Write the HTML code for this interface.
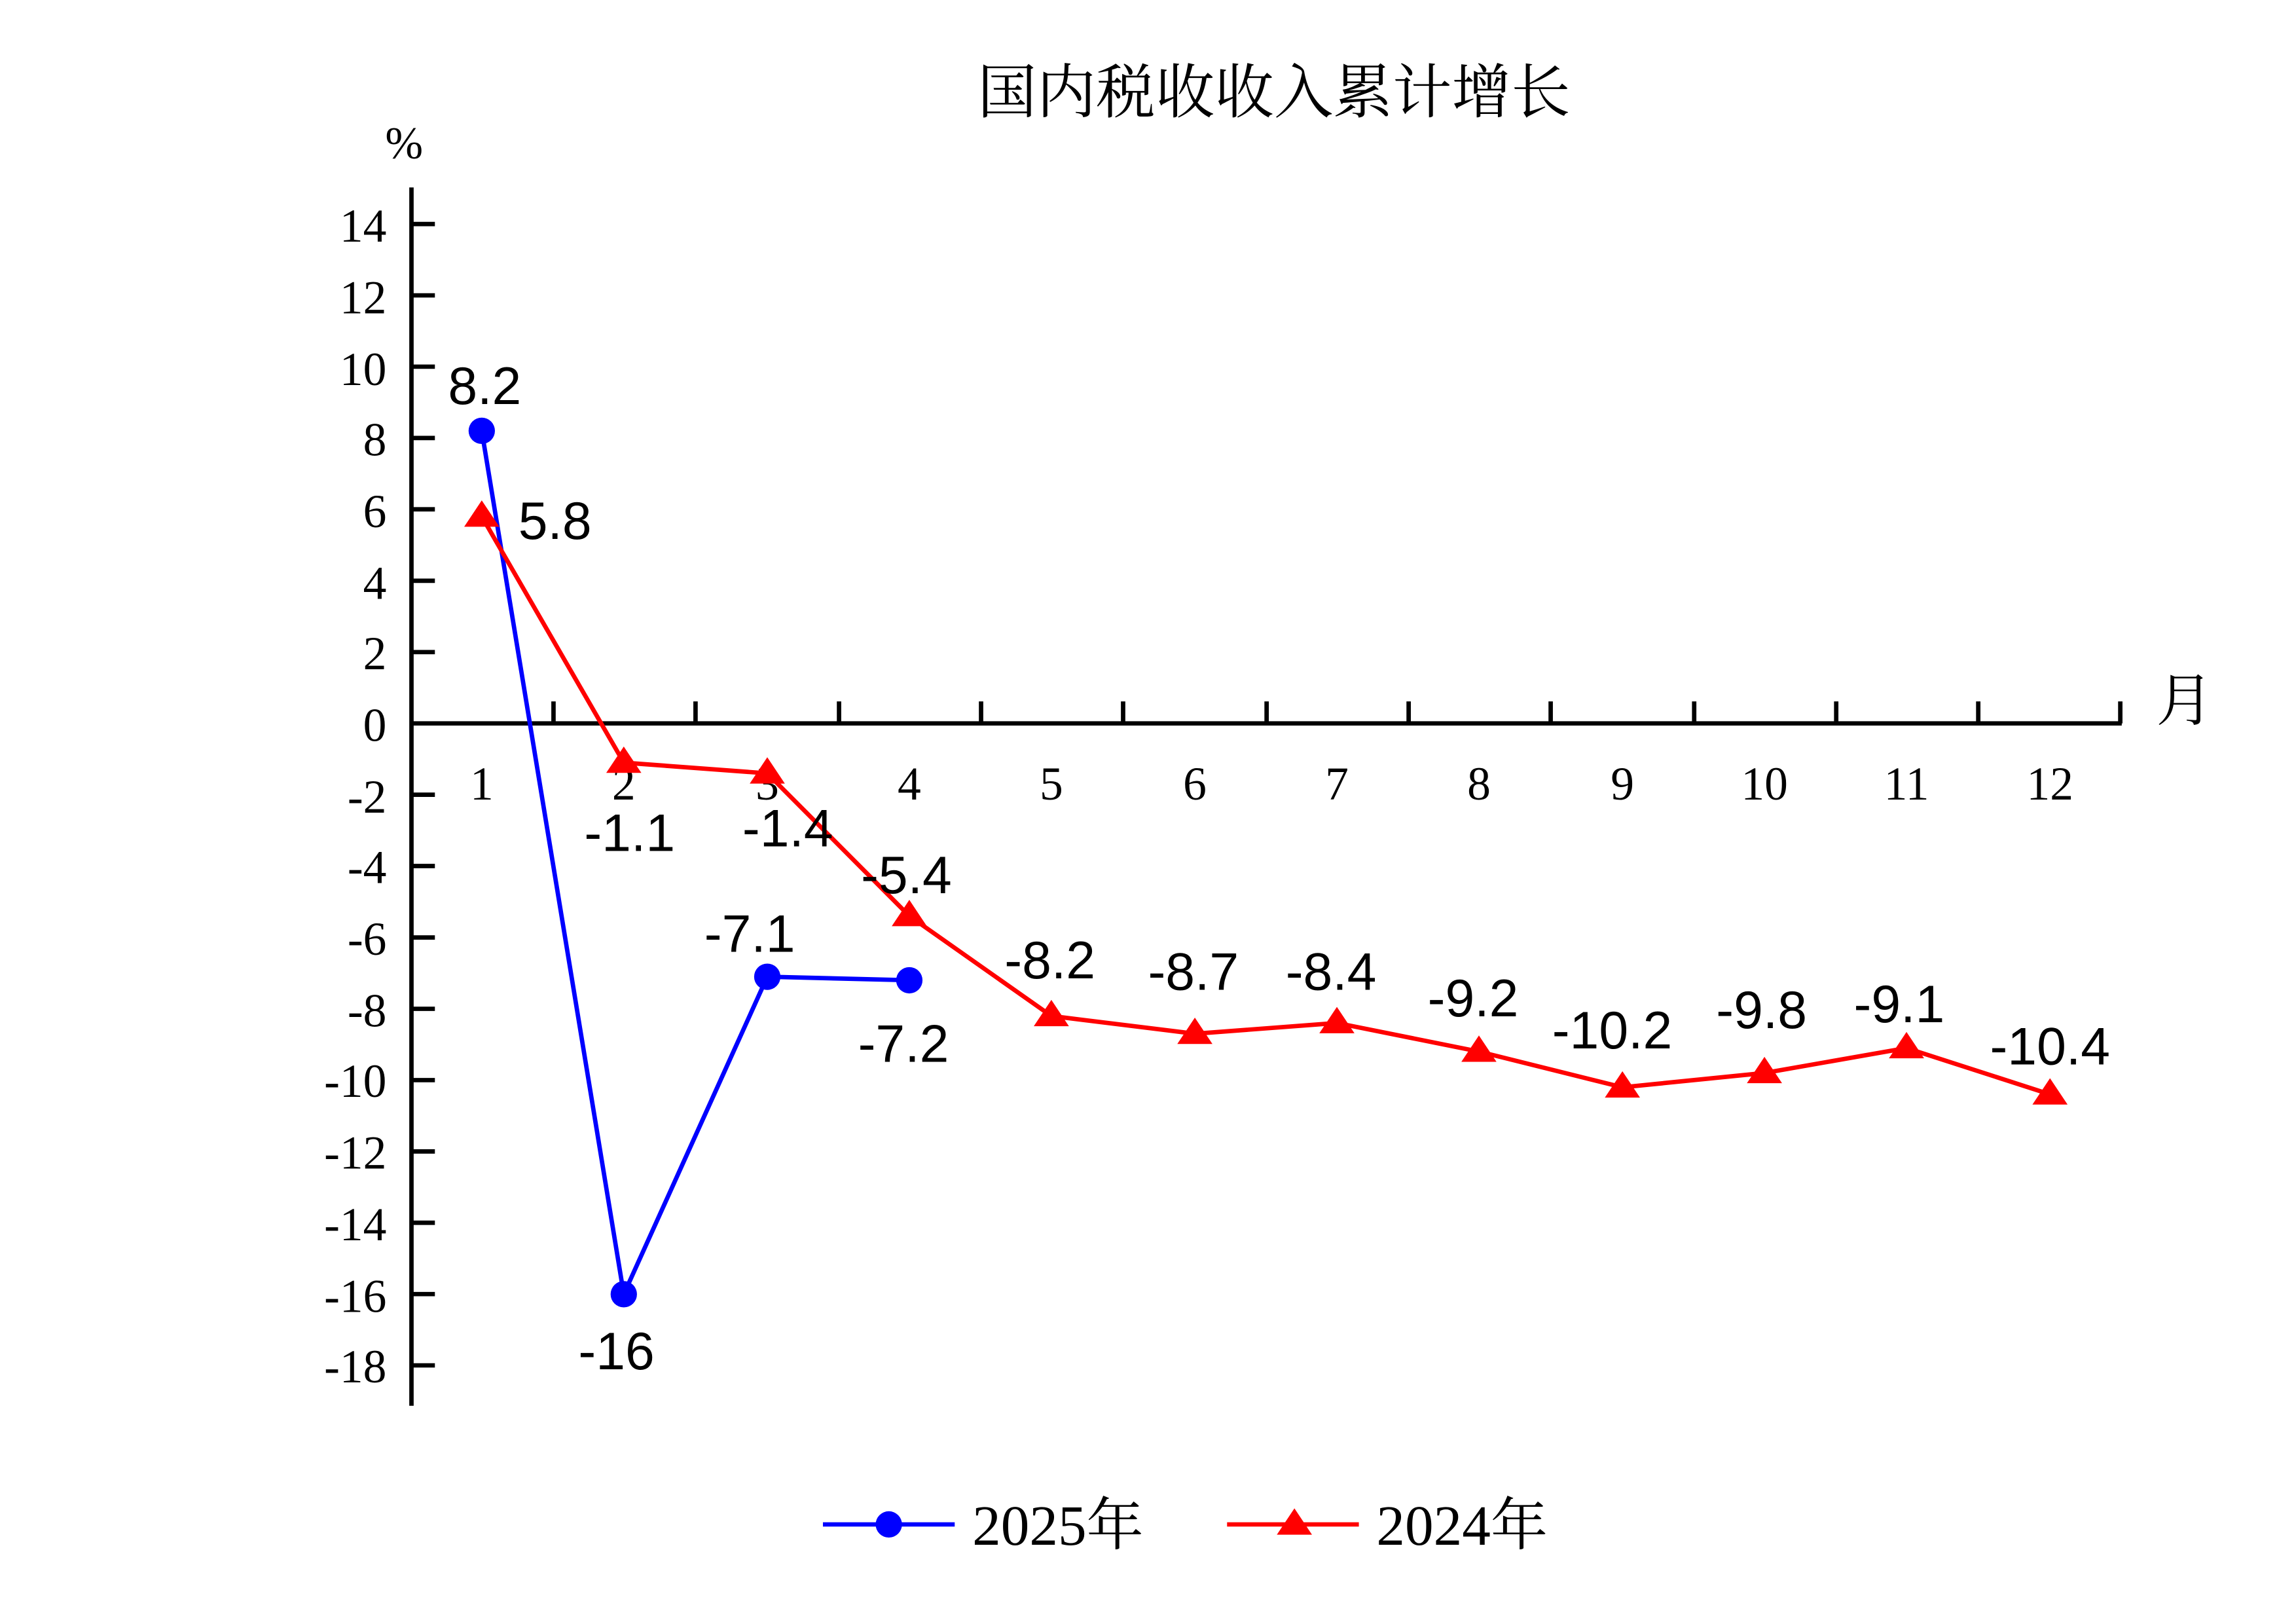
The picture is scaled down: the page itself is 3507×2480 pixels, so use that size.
<!DOCTYPE html>
<html><head><meta charset="utf-8"><style>html,body{margin:0;padding:0;background:#fff}svg{display:block}</style></head>
<body>
<svg width="3507" height="2480" viewBox="0 0 1568 1109" preserveAspectRatio="none" xmlns="http://www.w3.org/2000/svg">
<rect width="1568" height="1109" fill="#fff"/>
<text x="870" y="77" font-family="'Liberation Serif','Noto Serif CJK SC',serif" font-size="40.5" text-anchor="middle">国内税收收入累计增长</text>
<text x="276" y="108" font-family="'Liberation Serif',serif" font-size="31" text-anchor="middle">%</text>
<text x="1492" y="492" font-family="'Liberation Serif','Noto Serif CJK SC',serif" font-size="39" text-anchor="middle">月</text>
<g stroke="#000" stroke-width="3" fill="none">
<line x1="281" y1="128" x2="281" y2="960"/>
<line x1="281" y1="494" x2="1449" y2="494"/>
<path d="M281 153.0h16M281 201.7h16M281 250.4h16M281 299.1h16M281 347.8h16M281 396.6h16M281 445.3h16M281 542.7h16M281 591.4h16M281 640.2h16M281 688.9h16M281 737.6h16M281 786.3h16M281 835.0h16M281 883.7h16M281 932.4h16"/>
<path d="M378 494v-15M475 494v-15M573 494v-15M670 494v-15M767 494v-15M865 494v-15M962 494v-15M1059 494v-15M1157 494v-15M1254 494v-15M1351 494v-15M1448 494v-15"/>
</g>
<g font-family="'Liberation Serif',serif" font-size="32" text-anchor="end">
<text x="264" y="165">14</text><text x="264" y="214">12</text><text x="264" y="263">10</text><text x="264" y="311">8</text><text x="264" y="360">6</text><text x="264" y="409">4</text><text x="264" y="457">2</text><text x="264" y="506">0</text><text x="264" y="555">-2</text><text x="264" y="603">-4</text><text x="264" y="652">-6</text><text x="264" y="701">-8</text><text x="264" y="749">-10</text><text x="264" y="798">-12</text><text x="264" y="847">-14</text><text x="264" y="896">-16</text><text x="264" y="944">-18</text>
</g>
<g font-family="'Liberation Serif',serif" font-size="32" text-anchor="middle">
<text x="329" y="546">1</text><text x="426" y="546">2</text><text x="524" y="546">3</text><text x="621" y="546">4</text><text x="718" y="546">5</text><text x="816" y="546">6</text><text x="913" y="546">7</text><text x="1010" y="546">8</text><text x="1108" y="546">9</text><text x="1205" y="546">10</text><text x="1302" y="546">11</text><text x="1400" y="546">12</text>
</g>
<polyline fill="none" stroke="#00f" stroke-width="3" points="329,294.2 426,883.8 524,667.0 621,669.4"/>
<g fill="#00f"><circle cx="329" cy="294.2" r="9"/><circle cx="426" cy="883.8" r="9"/><circle cx="524" cy="667.0" r="9"/><circle cx="621" cy="669.4" r="9"/></g>
<polyline fill="none" stroke="#f00" stroke-width="3" points="329,352.7 426,520.8 524,528.1 621,625.5 718,693.8 816,705.9 913,698.6 1010,718.1 1108,742.5 1205,732.7 1302,715.7 1400,747.3"/>
<g fill="#f00">
<path d="M329,341.7l-12,18h24z M426,509.8l-12,18h24z M524,517.1l-12,18h24z M621,614.5l-12,18h24z M718,682.8l-12,18h24z M816,694.9l-12,18h24z M913,687.6l-12,18h24z M1010,707.1l-12,18h24z M1108,731.5l-12,18h24z M1205,721.7l-12,18h24z M1302,704.7l-12,18h24z M1400,736.3l-12,18h24z"/>
</g>
<g font-family="'Liberation Sans',sans-serif" font-size="36" text-anchor="middle">
<text x="331" y="276">8.2</text><text x="379" y="368">5.8</text><text x="421" y="935">-16</text><text x="512" y="650">-7.1</text><text x="617" y="725">-7.2</text>
<text x="430" y="581">-1.1</text><text x="538" y="578">-1.4</text><text x="619" y="610">-5.4</text><text x="717" y="668">-8.2</text><text x="815" y="676">-8.7</text><text x="909" y="676">-8.4</text><text x="1006" y="694">-9.2</text><text x="1101" y="716">-10.2</text><text x="1203" y="702">-9.8</text><text x="1297" y="698">-9.1</text><text x="1400" y="727">-10.4</text>
</g>
<line x1="562" y1="1041" x2="652" y2="1041" stroke="#00f" stroke-width="3"/>
<circle cx="607" cy="1041" r="9" fill="#00f"/>
<text x="664" y="1055" font-family="'Liberation Serif','Noto Serif CJK SC',serif" font-size="39">2025年</text>
<line x1="838" y1="1041" x2="928" y2="1041" stroke="#f00" stroke-width="3"/>
<path d="M884,1030l-12,18h24z" fill="#f00"/>
<text x="940" y="1055" font-family="'Liberation Serif','Noto Serif CJK SC',serif" font-size="39">2024年</text>
</svg>
</body></html>
